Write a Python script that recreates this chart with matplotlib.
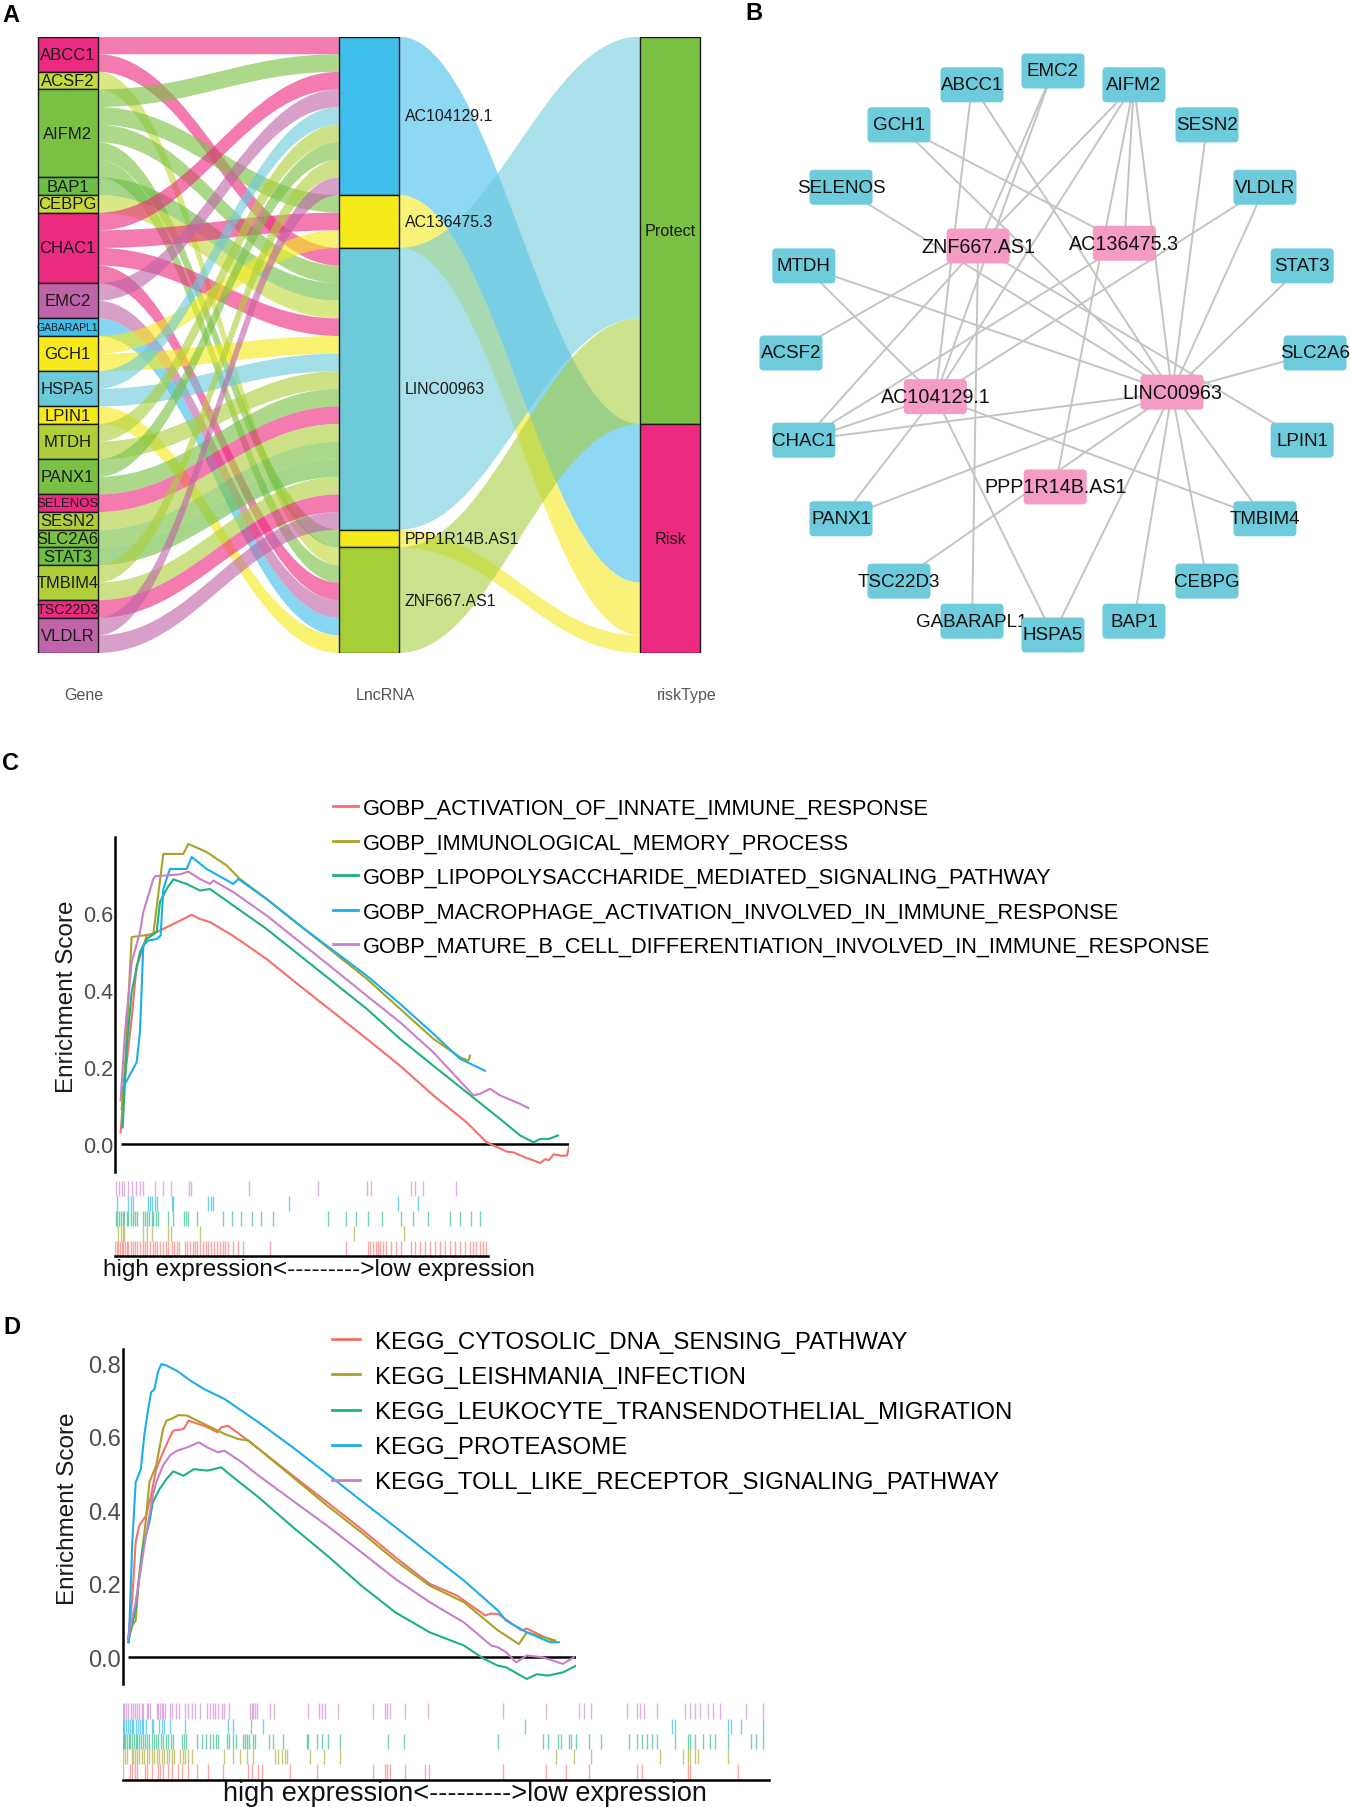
import numpy as np
import matplotlib.pyplot as plt
from matplotlib.path import Path
from matplotlib.patches import PathPatch, Rectangle, FancyBboxPatch
from matplotlib.textpath import TextPath
from matplotlib.font_manager import FontProperties

plt.rcParams['font.family'] = ['Liberation Sans', 'DejaVu Sans']

W, H, DPI = 1351, 1808, 100

# ---------------- data: panels A and B ----------------
genes = ['ABCC1', 'ACSF2', 'AIFM2', 'BAP1', 'CEBPG', 'CHAC1', 'EMC2', 'GABARAPL1', 'GCH1',
         'HSPA5', 'LPIN1', 'MTDH', 'PANX1', 'SELENOS', 'SESN2', 'SLC2A6', 'STAT3', 'TMBIM4',
         'TSC22D3', 'VLDLR']
lncrnas = ['AC104129.1', 'AC136475.3', 'LINC00963', 'PPP1R14B.AS1', 'ZNF667.AS1']
lnc_risk = ['Risk', 'Risk', 'Protect', 'Risk', 'Protect']
risk_types = ['Protect', 'Risk']

link_gene = ['ABCC1', 'ABCC1', 'ACSF2', 'AIFM2', 'AIFM2', 'AIFM2', 'AIFM2', 'AIFM2',
             'BAP1', 'CEBPG', 'CHAC1', 'CHAC1', 'CHAC1', 'CHAC1', 'EMC2', 'EMC2',
             'GABARAPL1', 'GCH1', 'GCH1', 'HSPA5', 'HSPA5', 'LPIN1', 'MTDH', 'MTDH',
             'PANX1', 'PANX1', 'SELENOS', 'SESN2', 'SLC2A6', 'STAT3', 'TMBIM4', 'TMBIM4',
             'TSC22D3', 'VLDLR', 'VLDLR']
link_lnc = ['AC104129.1', 'LINC00963', 'ZNF667.AS1', 'AC104129.1', 'AC136475.3', 'LINC00963', 'PPP1R14B.AS1', 'ZNF667.AS1',
            'LINC00963', 'LINC00963', 'AC104129.1', 'AC136475.3', 'LINC00963', 'ZNF667.AS1', 'AC104129.1', 'ZNF667.AS1',
            'ZNF667.AS1', 'AC136475.3', 'LINC00963', 'AC104129.1', 'LINC00963', 'ZNF667.AS1', 'AC104129.1', 'LINC00963',
            'AC104129.1', 'LINC00963', 'LINC00963', 'LINC00963', 'LINC00963', 'LINC00963', 'AC104129.1', 'LINC00963',
            'LINC00963', 'AC104129.1', 'LINC00963']

# network layout order (clockwise from top)
ring_genes = ['EMC2', 'AIFM2', 'SESN2', 'VLDLR', 'STAT3', 'SLC2A6', 'LPIN1', 'TMBIM4', 'CEBPG', 'BAP1',
              'HSPA5', 'GABARAPL1', 'TSC22D3', 'PANX1', 'CHAC1', 'ACSF2', 'MTDH', 'SELENOS', 'GCH1', 'ABCC1']
ring_lnc = ['ZNF667.AS1', 'AC136475.3', 'LINC00963', 'PPP1R14B.AS1', 'AC104129.1']

# ---------------- data: panel C ----------------
c_terms = ['GOBP_ACTIVATION_OF_INNATE_IMMUNE_RESPONSE',
           'GOBP_IMMUNOLOGICAL_MEMORY_PROCESS',
           'GOBP_LIPOPOLYSACCHARIDE_MEDIATED_SIGNALING_PATHWAY',
           'GOBP_MACROPHAGE_ACTIVATION_INVOLVED_IN_IMMUNE_RESPONSE',
           'GOBP_MATURE_B_CELL_DIFFERENTIATION_INVOLVED_IN_IMMUNE_RESPONSE']
c_rank = [
    [17, 27, 50, 65, 73, 95, 135, 175, 205, 230, 255, 285, 355, 455, 555, 655, 755, 855, 955, 1055,
     1115, 1175, 1195, 1230, 1262, 1275, 1290, 1302, 1316, 1340, 1356, 1362],
    [20, 30, 50, 115, 145, 205, 220, 275, 335, 375, 455, 555, 655, 755, 855, 955, 1035, 1060, 1065],
    [23, 35, 50, 75, 95, 125, 135, 155, 175, 215, 255, 285, 355, 455, 555, 655, 755, 855, 955, 1055,
     1155, 1215, 1256, 1276, 1302, 1329],
    [20, 65, 75, 85, 100, 125, 137, 145, 165, 215, 230, 275, 355, 370, 455, 555, 655, 755, 855, 955,
     1035, 1110],
    [17, 30, 50, 75, 85, 115, 120, 195, 220, 255, 285, 295, 355, 455, 555, 655, 755, 855, 955, 1075,
     1095, 1125, 1155, 1215, 1240],
]
c_es = [
    [0.03, 0.15, 0.325, 0.463, 0.48, 0.54, 0.554, 0.571, 0.584, 0.595, 0.584, 0.576, 0.54, 0.48, 0.41,
     0.342, 0.273, 0.203, 0.126, 0.056, 0.004, -0.02, -0.022, -0.035, -0.045, -0.05, -0.04, -0.042,
     -0.027, -0.031, -0.03, -0.009],
    [0.09, 0.2, 0.537, 0.545, 0.753, 0.753, 0.779, 0.758, 0.723, 0.688, 0.636, 0.567, 0.498, 0.429,
     0.351, 0.273, 0.225, 0.216, 0.229],
    [0.043, 0.247, 0.394, 0.498, 0.532, 0.55, 0.628, 0.662, 0.687, 0.675, 0.658, 0.662, 0.619, 0.558,
     0.489, 0.42, 0.351, 0.273, 0.203, 0.134, 0.065, 0.022, 0.004, 0.013, 0.013, 0.022],
    [0.139, 0.212, 0.29, 0.515, 0.528, 0.532, 0.541, 0.662, 0.714, 0.714, 0.745, 0.714, 0.675, 0.688,
     0.636, 0.567, 0.502, 0.437, 0.364, 0.286, 0.221, 0.19],
    [0.113, 0.29, 0.472, 0.55, 0.602, 0.688, 0.695, 0.7, 0.707, 0.688, 0.675, 0.684, 0.654, 0.593,
     0.524, 0.455, 0.385, 0.316, 0.238, 0.126, 0.13, 0.143, 0.126, 0.104, 0.093],
]
c_hits = [
    [0, 5, 10, 15, 20, 25, 30, 35, 40, 47, 53, 60, 67, 75, 83, 91, 97, 105, 113, 120, 127, 135, 145,
     153, 160, 170, 177, 185, 193, 210, 217, 225, 233, 240, 247, 255, 265, 273, 280, 287, 297, 305,
     315, 323, 331, 340, 355, 370, 383, 465, 695, 760, 767, 775, 783, 790, 797, 805, 815, 830, 845,
     860, 890, 900, 915, 930, 945, 960, 975, 990, 1005, 1020, 1035, 1050, 1065, 1075, 1085, 1095,
     1105, 1115],
    [10, 17, 23, 27, 85, 95, 110, 158, 167, 255, 718, 868],
    [3, 7, 11, 17, 23, 27, 35, 40, 47, 53, 60, 65, 85, 91, 97, 103, 110, 115, 123, 129, 160, 175, 207,
     213, 220, 247, 323, 350, 377, 410, 437, 475, 640, 695, 725, 760, 803, 860, 895, 940, 1005, 1035,
     1070, 1095],
    [5, 40, 47, 55, 98, 105, 112, 120, 125, 170, 175, 280, 287, 295, 523, 850, 910],
    [3, 13, 20, 27, 38, 50, 63, 75, 85, 120, 145, 167, 223, 228, 403, 610, 758, 770, 890, 900, 925,
     1023],
]

# ---------------- data: panel D ----------------
d_terms = ['KEGG_CYTOSOLIC_DNA_SENSING_PATHWAY',
           'KEGG_LEISHMANIA_INFECTION',
           'KEGG_LEUKOCYTE_TRANSENDOTHELIAL_MIGRATION',
           'KEGG_PROTEASOME',
           'KEGG_TOLL_LIKE_RECEPTOR_SIGNALING_PATHWAY']
d_rank = [
    [50, 62, 72, 82, 102, 117, 132, 152, 172, 182, 212, 227, 242, 272, 312, 322, 342, 382, 432, 532,
     632, 732, 832, 932, 1012, 1082, 1094, 1112, 1132, 1201, 1216, 1299],
    [50, 62, 72, 82, 102, 112, 132, 152, 162, 177, 197, 222, 252, 292, 332, 372, 402, 432, 532, 632,
     732, 832, 932, 1032, 1132, 1193, 1216, 1299],
    [50, 72, 92, 112, 122, 142, 162, 182, 212, 242, 282, 322, 352, 432, 532, 632, 732, 832, 932, 1032,
     1092, 1132, 1155, 1216, 1246, 1277, 1322, 1360],
    [52, 62, 72, 87, 97, 107, 117, 127, 137, 147, 162, 192, 232, 272, 332, 432, 532, 632, 732, 832,
     932, 1032, 1132, 1155, 1216, 1284, 1310],
    [50, 72, 102, 122, 132, 152, 172, 192, 222, 257, 282, 312, 332, 382, 432, 532, 632, 732, 832, 932,
     1032, 1112, 1132, 1155, 1185, 1216, 1262, 1322, 1353],
]
d_es = [
    [0.05, 0.159, 0.313, 0.358, 0.385, 0.44, 0.512, 0.558, 0.599, 0.617, 0.621, 0.644, 0.639, 0.63,
     0.612, 0.626, 0.63, 0.603, 0.567, 0.494, 0.422, 0.349, 0.272, 0.2, 0.168, 0.122, 0.114, 0.119,
     0.118, 0.073, 0.078, 0.041],
    [0.05, 0.086, 0.1, 0.222, 0.376, 0.476, 0.522, 0.621, 0.644, 0.649, 0.659, 0.658, 0.644, 0.626,
     0.608, 0.594, 0.59, 0.567, 0.49, 0.413, 0.34, 0.263, 0.195, 0.15, 0.073, 0.036, 0.068, 0.046],
    [0.041, 0.132, 0.295, 0.367, 0.422, 0.458, 0.485, 0.506, 0.494, 0.512, 0.508, 0.517, 0.494, 0.435,
     0.354, 0.277, 0.195, 0.122, 0.068, 0.032, -0.005, -0.023, -0.027, -0.059, -0.046, -0.05, -0.041,
     -0.023],
    [0.041, 0.313, 0.476, 0.512, 0.603, 0.667, 0.721, 0.73, 0.776, 0.798, 0.794, 0.78, 0.753, 0.73,
     0.703, 0.639, 0.571, 0.499, 0.426, 0.354, 0.281, 0.209, 0.127, 0.1, 0.068, 0.041, 0.041],
    [0.054, 0.15, 0.331, 0.44, 0.476, 0.522, 0.549, 0.562, 0.571, 0.585, 0.571, 0.558, 0.562, 0.531,
     0.494, 0.426, 0.358, 0.286, 0.213, 0.15, 0.095, 0.032, 0.027, 0.014, -0.014, 0.005, 0.0, -0.018,
     0.0],
]
d_hits = [
    [0, 22, 27, 37, 44, 67, 72, 87, 107, 112, 122, 137, 147, 167, 177, 197, 222, 257, 302, 377, 387,
     407, 417, 502, 582, 750, 787, 794, 802, 847, 907, 920, 1140, 1269, 1330, 1398, 1543, 1558, 1695,
     1702, 1847],
    [0, 7, 14, 27, 32, 37, 44, 50, 57, 64, 72, 80, 87, 94, 102, 110, 117, 124, 132, 140, 147, 154, 172,
     180, 188, 197, 207, 304, 330, 352, 372, 392, 457, 467, 477, 487, 494, 562, 604, 652, 1299, 1353,
     1406, 1611, 1680, 1695, 1702, 1717, 1725, 1816],
    [0, 4, 8, 12, 18, 22, 28, 34, 40, 44, 50, 56, 62, 68, 74, 80, 87, 94, 100, 107, 114, 122, 130, 137,
     144, 152, 177, 184, 190, 222, 237, 250, 262, 272, 280, 287, 312, 320, 332, 340, 362, 367, 374,
     380, 390, 397, 440, 452, 480, 552, 557, 582, 597, 617, 652, 797, 845, 1125, 1262, 1277, 1307,
     1315, 1338, 1345, 1360, 1398, 1436, 1520, 1543, 1558, 1573, 1588, 1604, 1657, 1695, 1702, 1717,
     1740, 1763, 1778, 1816, 1885, 1900, 1922],
    [0, 4, 10, 16, 22, 27, 32, 40, 47, 52, 57, 62, 70, 87, 92, 110, 117, 124, 142, 187, 317, 330, 384,
     422, 1208, 1649, 1657, 1816, 1824, 1854, 1922],
    [0, 4, 10, 17, 24, 32, 37, 42, 50, 57, 62, 72, 77, 82, 102, 107, 112, 117, 122, 127, 142, 147, 160,
     169, 187, 197, 207, 217, 232, 254, 262, 270, 277, 287, 297, 304, 320, 382, 387, 392, 397, 404,
     442, 454, 557, 590, 597, 607, 647, 750, 787, 794, 802, 847, 917, 1140, 1269, 1368, 1383, 1406,
     1512, 1543, 1553, 1565, 1604, 1687, 1702, 1717, 1733, 1755, 1771, 1793, 1869, 1922],
]

# ---------------- styles ----------------
MAG, GR, BL, YE, CY, PU = '#EC2A7F', '#7AC143', '#3FBDEB', '#F6EA1A', '#6CCADB', '#C064A9'
gene_colors = {'ABCC1': MAG, 'ACSF2': '#C4D93B', 'AIFM2': GR, 'BAP1': '#6CBE45', 'CEBPG': '#C4D93B',
               'CHAC1': MAG, 'EMC2': PU, 'GABARAPL1': BL, 'GCH1': YE, 'HSPA5': CY, 'LPIN1': YE,
               'MTDH': '#AECF3A', 'PANX1': GR, 'SELENOS': MAG, 'SESN2': '#AECF3A', 'SLC2A6': GR,
               'STAT3': '#6CBE45', 'TMBIM4': '#AECF3A', 'TSC22D3': MAG, 'VLDLR': PU}
lnc_colors = {'AC104129.1': BL, 'AC136475.3': YE, 'LINC00963': CY, 'PPP1R14B.AS1': YE,
              'ZNF667.AS1': '#A6CE39'}
risk_colors = {'Protect': GR, 'Risk': MAG}
gsea_colors = ['#F5706A', '#A6A326', '#1DB27E', '#1AAFE8', '#C97FC9']

fig = plt.figure(figsize=(W / DPI, H / DPI), dpi=DPI)


def px_axes(l, t, r, b):
    return fig.add_axes([l / W, 1 - b / H, (r - l) / W, (b - t) / H])


def ribbon(ax, x0, x1, a0, b0, a1, b1, color, alpha, k=0.4):
    d = x1 - x0
    verts = [(x0, a0), (x0 + k * d, a0), (x1 - k * d, a1), (x1, a1),
             (x1, b1), (x1 - k * d, b1), (x0 + k * d, b0), (x0, b0), (x0, a0)]
    codes = [Path.MOVETO, Path.CURVE4, Path.CURVE4, Path.CURVE4, Path.LINETO,
             Path.CURVE4, Path.CURVE4, Path.CURVE4, Path.CLOSEPOLY]
    ax.add_patch(PathPatch(Path(verts, codes), fc=color, ec='none', lw=0, alpha=alpha, zorder=1))


fp = FontProperties(family='Liberation Sans')


def text_w_px(s, size):
    return TextPath((0, 0), s, size=size, prop=fp).get_extents().width * DPI / 72


# ---------------- panel A: alluvial ----------------
step, x0_px = 301.2, 67.7
axA = px_axes(0, 37.6, 720, 654)
n = len(link_gene)
axA.set_xlim(-x0_px / step, (720 - x0_px) / step)
axA.set_ylim(n, 0)
axA.axis('off')
hw = 30 / step

gene_n = [link_gene.count(g) for g in genes]
gene_top = np.concatenate([[0], np.cumsum(gene_n)[:-1]])
lnc_n = [link_lnc.count(l) for l in lncrnas]
lnc_top = np.concatenate([[0], np.cumsum(lnc_n)[:-1]])
risk_n = [sum(c for c, r in zip(lnc_n, lnc_risk) if r == rt) for rt in risk_types]
risk_top = np.concatenate([[0], np.cumsum(risk_n)[:-1]])

g_lode = np.zeros(n)
l_lode = np.zeros(n)
for gi, g in enumerate(genes):
    ids = sorted([i for i in range(n) if link_gene[i] == g], key=lambda i: lncrnas.index(link_lnc[i]))
    for k, i in enumerate(ids):
        g_lode[i] = gene_top[gi] + k
for li, l in enumerate(lncrnas):
    ids = sorted([i for i in range(n) if link_lnc[i] == l], key=lambda i: genes.index(link_gene[i]))
    for k, i in enumerate(ids):
        l_lode[i] = lnc_top[li] + k

for i in range(n):
    ribbon(axA, hw, 1 - hw, g_lode[i], g_lode[i] + 1, l_lode[i], l_lode[i] + 1,
           gene_colors[link_gene[i]], 0.62)

for li, l in enumerate(lncrnas):
    rt = risk_types.index(lnc_risk[li])
    off = sum(lnc_n[j] for j in range(li) if lnc_risk[j] == lnc_risk[li])
    ribbon(axA, 1 + hw, 2 - hw, lnc_top[li], lnc_top[li] + lnc_n[li],
           risk_top[rt] + off, risk_top[rt] + off + lnc_n[li], lnc_colors[l], 0.58)

for gi, g in enumerate(genes):
    axA.add_patch(Rectangle((-hw, gene_top[gi]), 2 * hw, gene_n[gi], fc=gene_colors[g],
                            ec='#1a1a1a', lw=1.0, zorder=2))
    fs = min(12.0, 12.0 * 61 / text_w_px(g, 12.0))
    axA.text(0, gene_top[gi] + gene_n[gi] / 2, g, ha='center', va='center', fontsize=fs,
             color='#1a1a1a', zorder=3)
for li, l in enumerate(lncrnas):
    axA.add_patch(Rectangle((1 - hw, lnc_top[li]), 2 * hw, lnc_n[li], fc=lnc_colors[l],
                            ec='#1a1a1a', lw=1.0, zorder=2))
    axA.text(1 + hw + 0.02, lnc_top[li] + lnc_n[li] / 2, l, ha='left', va='center', fontsize=11.4,
             color='#1a1a1a', zorder=3)
for ri, rt in enumerate(risk_types):
    axA.add_patch(Rectangle((2 - hw, risk_top[ri]), 2 * hw, risk_n[ri], fc=risk_colors[rt],
                            ec='#1a1a1a', lw=1.0, zorder=2))
    axA.text(2, risk_top[ri] + risk_n[ri] / 2, rt, ha='center', va='center', fontsize=11.6,
             color='#1a1a1a', zorder=3)
for i, lab in enumerate(['Gene', 'LncRNA', 'riskType']):
    axA.text(i + 0.055, n + 2.33, lab, ha='center', va='center', fontsize=11.5, color='#555555')

# ---------------- panel B: network ----------------
cx, cy, rx, ry = 1053, 354, 262, 282
axB = px_axes(720, 0, 1351, 700)
axB.set_xlim((720 - cx) / rx, (1351 - cx) / rx)
axB.set_ylim((cy - 700) / ry, cy / ry)
axB.axis('off')
pos = {}
for k, g in enumerate(ring_genes):
    a = np.deg2rad(90 - 360 * k / len(ring_genes))
    pos[g] = (np.cos(a), np.sin(a))
for k, l in enumerate(ring_lnc):
    a = np.deg2rad(127 - 360 * k / len(ring_lnc))
    pos[l] = (0.475 * np.cos(a), 0.475 * np.sin(a))
for g, l in zip(link_gene, link_lnc):
    axB.plot([pos[g][0], pos[l][0]], [pos[g][1], pos[l][1]], color='#c4c4c4', lw=1.4, zorder=1)
bw, bh = 63 / rx, 35 / ry
for z, name in enumerate(sorted(genes + lncrnas)):
    is_lnc = name in lncrnas
    x, y = pos[name]
    axB.add_patch(FancyBboxPatch((x - bw / 2, y - bh / 2), bw, bh,
                                 boxstyle='round,pad=0,rounding_size=0.015',
                                 fc='#F49CC3' if is_lnc else '#6DCBDC', ec='none', zorder=2 + 2 * z))
    axB.text(x, y, name, ha='center', va='center', fontsize=14.2 if is_lnc else 13.5,
             color='#111111', zorder=3 + 2 * z)


# ---------------- panels C and D: GSEA ----------------
def gsea_panel(box, rug_box, ranks, es, hits, terms, yticks, ylim, rug_max, tick_fs, leg_xy,
               leg_fs, leg_kw, ylab_xy, xlab_xy, xlab_fs):
    ax = px_axes(*box)
    lo = min(r[0] for r in ranks)
    hi = max(r[-1] for r in ranks)
    ax.set_xlim(lo - 16, hi)
    ax.set_ylim(*ylim)
    for sp in ['top', 'right', 'bottom']:
        ax.spines[sp].set_visible(False)
    ax.spines['left'].set_linewidth(1.8)
    ax.set_xticks([])
    ax.set_yticks(yticks)
    ax.set_yticklabels(['%.1f' % v for v in yticks], fontsize=tick_fs, color='#4D4D4D')
    ax.tick_params(axis='y', length=0, pad=1.5)
    ax.patch.set_alpha(0)
    ax.hlines(0, lo, hi, color='black', lw=1.8, zorder=1)
    handles = []
    for i in range(len(terms)):
        h, = ax.plot(ranks[i], es[i], color=gsea_colors[i], lw=1.5, zorder=2, label=terms[i])
        handles.append(h)
    leg = ax.legend(handles=handles, loc='upper left', bbox_to_anchor=(leg_xy[0] / W, 1 - leg_xy[1] / H),
                    bbox_transform=fig.transFigure, frameon=False, fontsize=leg_fs, borderpad=0,
                    borderaxespad=0, **leg_kw)
    for ln in leg.get_lines():
        ln.set_linewidth(2.0)
    fig.text(ylab_xy[0] / W, 1 - ylab_xy[1] / H, 'Enrichment Score', rotation=90, ha='center',
             va='center', fontsize=17.5, color='#1a1a1a')

    axr = px_axes(*rug_box)
    axr.set_xlim(0, rug_max)
    axr.set_ylim(0, 5)
    for sp in ['top', 'right', 'left']:
        axr.spines[sp].set_visible(False)
    axr.spines['bottom'].set_linewidth(1.8)
    axr.set_xticks([])
    axr.set_yticks([])
    axr.patch.set_alpha(0)
    for i in range(len(terms)):
        axr.vlines(hits[i], i, i + 1, color=gsea_colors[i], lw=1.0, alpha=0.6)
    fig.text(xlab_xy[0] / W, 1 - xlab_xy[1] / H, 'high expression<--------->low expression',
             ha='center', va='center', fontsize=xlab_fs, color='#111111')


gsea_panel((115.3, 838, 569, 1173), (115, 1181.7, 488, 1257.3), c_rank, c_es, c_hits, c_terms,
           [0.0, 0.2, 0.4, 0.6], (-0.073, 0.797), 1120, 15.5, (333, 799), 15.7,
           dict(handlelength=1.15, handletextpad=0.23, labelspacing=0.62),
           (66.7, 997), (318.5, 1270), 17.5)
gsea_panel((122.7, 1350, 576, 1685), (122.7, 1704.3, 769, 1780.7), d_rank, d_es, d_hits, d_terms,
           [0.0, 0.2, 0.4, 0.6, 0.8], (-0.0727, 0.839), 1939, 17, (332, 1331.5), 17.3,
           dict(handlelength=1.18, handletextpad=0.63, labelspacing=0.55),
           (68.3, 1509), (465, 1794.5), 19.5)

# panel letters
for lab, (x, y) in zip('ABCD', [(11, 15.5), (754, 14), (11, 764), (12, 1328)]):
    fig.text(x / W, 1 - y / H, lab, ha='center', va='center', fontsize=17, fontweight='bold')

fig.savefig('out.png', dpi=DPI)
